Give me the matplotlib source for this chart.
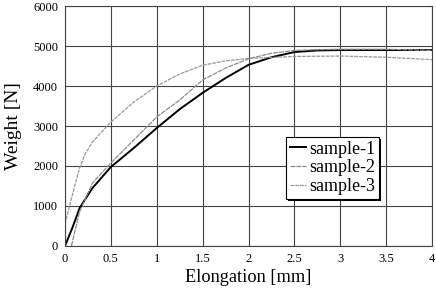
import matplotlib
matplotlib.use("Agg")
import matplotlib.pyplot as plt
from matplotlib.patches import Rectangle

plt.rcParams['font.family'] = ['Liberation Serif', 'DejaVu Serif']

# Data (elongation mm, weight N)
x1 = [0.0, 0.08, 0.16, 0.3, 0.5, 0.75, 1.0, 1.25, 1.5, 1.75, 2.0, 2.25, 2.5, 2.75, 3.0, 3.5, 4.0]
y1 = [0, 450, 950, 1450, 1975, 2450, 2950, 3420, 3830, 4200, 4530, 4720, 4850, 4890, 4900, 4900, 4900]

x2 = [0.07, 0.16, 0.3, 0.5, 0.75, 1.0, 1.25, 1.5, 1.75, 2.0, 2.25, 2.5, 2.75, 3.0, 3.5, 4.0]
y2 = [0, 860, 1575, 2075, 2650, 3225, 3650, 4150, 4450, 4680, 4820, 4890, 4910, 4920, 4920, 4890]

x3 = [0.0, 0.05, 0.1, 0.16, 0.22, 0.3, 0.4, 0.5, 0.75, 1.0, 1.25, 1.5, 1.75, 2.0, 2.5, 3.0, 3.5, 4.0]
y3 = [550, 1000, 1450, 1950, 2300, 2600, 2850, 3100, 3600, 4000, 4300, 4520, 4630, 4690, 4740, 4750, 4720, 4660]

labels = ['sample-1', 'sample-2', 'sample-3']
xticks = [0, 0.5, 1, 1.5, 2, 2.5, 3, 3.5, 4]
xticklabels = ['0', '0.5', '1', '1.5', '2', '2.5', '3', '3.5', '4']
yticks = [0, 1000, 2000, 3000, 4000, 5000, 6000]

fig = plt.figure(figsize=(4.36, 2.89), dpi=100)
ax = fig.add_axes([0.149, 0.149, 0.842, 0.830])

ax.plot(x1, y1, color='black', lw=1.4, label=labels[0])
ax.plot(x2, y2, color='#8c8c8c', lw=0.9, linestyle=(0, (4, 0.7)), label=labels[1])
ax.plot(x3, y3, color='#999999', lw=0.9, linestyle=(0, (3, 0.8)), label=labels[2])

ax.set_xlim(0, 4)
ax.set_ylim(0, 6000)
ax.set_xticks(xticks)
ax.set_xticklabels(xticklabels)
ax.set_yticks(yticks)
ax.grid(True, color='#444444', lw=0.8)
ax.set_axisbelow(True)
ax.tick_params(length=0, labelsize=9, pad=5)
for s in ax.spines.values():
    s.set_color('#444444')
    s.set_linewidth(0.8)

ax.set_xlabel('Elongation [mm]', fontsize=13.2, labelpad=3)
ax.set_ylabel('Weight [N]', fontsize=14, labelpad=8)

leg = ax.legend(loc='upper left', bbox_to_anchor=(0.602, 0.454), borderaxespad=0,
                fontsize=13, frameon=True, fancybox=False, shadow=False,
                edgecolor='black', framealpha=1, handlelength=0.9, handletextpad=0.2,
                labelspacing=0.1, borderpad=0.2)
leg.get_frame().set_linewidth(0.8)
leg.set_zorder(5)

fig.canvas.draw()
bb = leg.get_frame().get_window_extent(fig.canvas.get_renderer())
W, H = fig.bbox.width, fig.bbox.height
sh = Rectangle(((bb.x0 + 2) / W, (bb.y0 - 2) / H), bb.width / W, bb.height / H,
               transform=fig.transFigure, facecolor='black', edgecolor='none',
               zorder=4.9, clip_on=False)
ax.add_artist(sh)

fig.savefig('out.png', dpi=100)
